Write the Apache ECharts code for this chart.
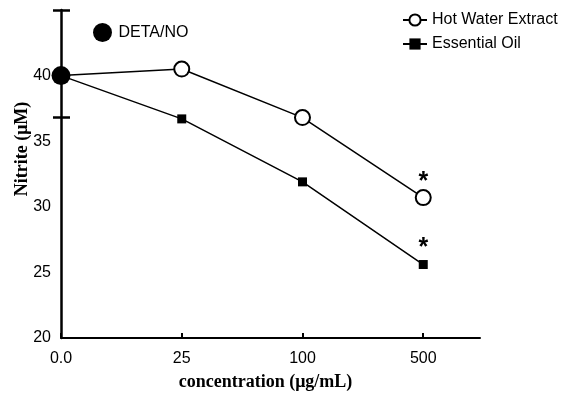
<!DOCTYPE html>
<html><head><meta charset="utf-8">
<script src="https://cdn.jsdelivr.net/npm/echarts@6/dist/echarts.min.js"></script>
<style>html,body{margin:0;padding:0;background:#fff}#c{width:561px;height:396px}</style>
</head><body><div id="c"></div>
<script>
const categories = ['0.0', '25', '100', '500'];
const hotWater = [40.0, 40.5, 36.8, 30.7];
const essentialOil = [40.0, 36.7, 31.9, 25.6];
const detaNO = [40.0];
const yLabels = [20, 25, 30, 35, 40];
const yExtraTicks = [45, 36.8];
const sigIndex = 3;

const chart = echarts.init(document.getElementById('c'));
const sans = 'Liberation Sans, Arial, sans-serif';
const serif = 'Liberation Serif, Times New Roman, serif';
const toPts = (arr, dist) => arr.map((v, i) => ({
  value: [i, v],
  label: i === sigIndex ? {show: true, formatter: '*', position: 'top', distance: dist,
    fontSize: 25, fontWeight: 'bold', color: '#000', fontFamily: sans} : {show: false}
}));
const yCommon = {type: 'value', min: 20, max: 45, splitLine: {show: false}};
chart.setOption({
  animation: false,
  grid: {left: 61, right: 81, top: 10, bottom: 55},
  graphic: [{
    type: 'text', x: 22, y: 149, rotation: Math.PI / 2,
    style: {text: 'Nitrite (μM)', fontFamily: serif, fontWeight: 'bold', fontSize: 18,
      fill: '#000', align: 'center', verticalAlign: 'middle'}
  }],
  legend: [
    {data: ['DETA/NO'], left: 88, top: 18, itemWidth: 22, itemHeight: 19, icon: 'circle',
     itemStyle: {opacity: 1},
     textStyle: {fontFamily: sans, fontSize: 16, color: '#000'}},
    {data: ['Hot Water Extract', 'Essential Oil'], left: 397, top: 7, orient: 'vertical', itemGap: 8,
     itemWidth: 24, itemHeight: 14, textStyle: {fontFamily: sans, fontSize: 16, color: '#000'}}
  ],
  xAxis: {
    type: 'value', min: 0, max: 3.47, interval: 1,
    name: 'concentration (μg/mL)', nameLocation: 'middle', nameGap: 35,
    nameTextStyle: {fontFamily: serif, fontWeight: 'bold', fontSize: 18, color: '#000', padding: [0, 10, 0, 0]},
    axisLine: {lineStyle: {color: '#000', width: 2}},
    axisTick: {inside: true, length: 5, lineStyle: {color: '#000', width: 2}},
    axisLabel: {fontFamily: sans, fontSize: 16, color: '#000', margin: 13, showMaxLabel: false,
      formatter: v => categories[v] !== undefined ? categories[v] : ''},
    splitLine: {show: false}
  },
  yAxis: [
    Object.assign({}, yCommon, {
      axisLine: {lineStyle: {color: '#000', width: 2.5}},
      axisTick: {show: true, length: 8, customValues: yExtraTicks, lineStyle: {color: '#000', width: 2.5}},
      axisLabel: {customValues: yLabels, fontFamily: sans, fontSize: 16, color: '#000', margin: 10}
    }),
    Object.assign({}, yCommon, {
      position: 'left',
      axisLine: {show: false},
      axisTick: {show: true, inside: true, length: 9, customValues: yExtraTicks, lineStyle: {color: '#000', width: 2.5}},
      axisLabel: {show: false}
    })
  ],
  series: [
    {name: 'Hot Water Extract', type: 'line', data: toPts(hotWater, -5), symbol: 'emptyCircle', symbolSize: 15,
     lineStyle: {color: '#000', width: 1.5}, itemStyle: {color: '#000', borderWidth: 1.5, borderColor: '#000'}, z: 3},
    {name: 'Essential Oil', type: 'line', data: toPts(essentialOil, -1), symbol: 'rect', symbolSize: 9,
     lineStyle: {color: '#000', width: 1.5}, itemStyle: {color: '#000'}, z: 3},
    {name: 'DETA/NO', type: 'scatter', data: detaNO.map(v => [0, v]), symbol: 'circle', symbolSize: 19,
     itemStyle: {color: '#000', opacity: 1}, z: 10}
  ]
});
</script></body></html>
